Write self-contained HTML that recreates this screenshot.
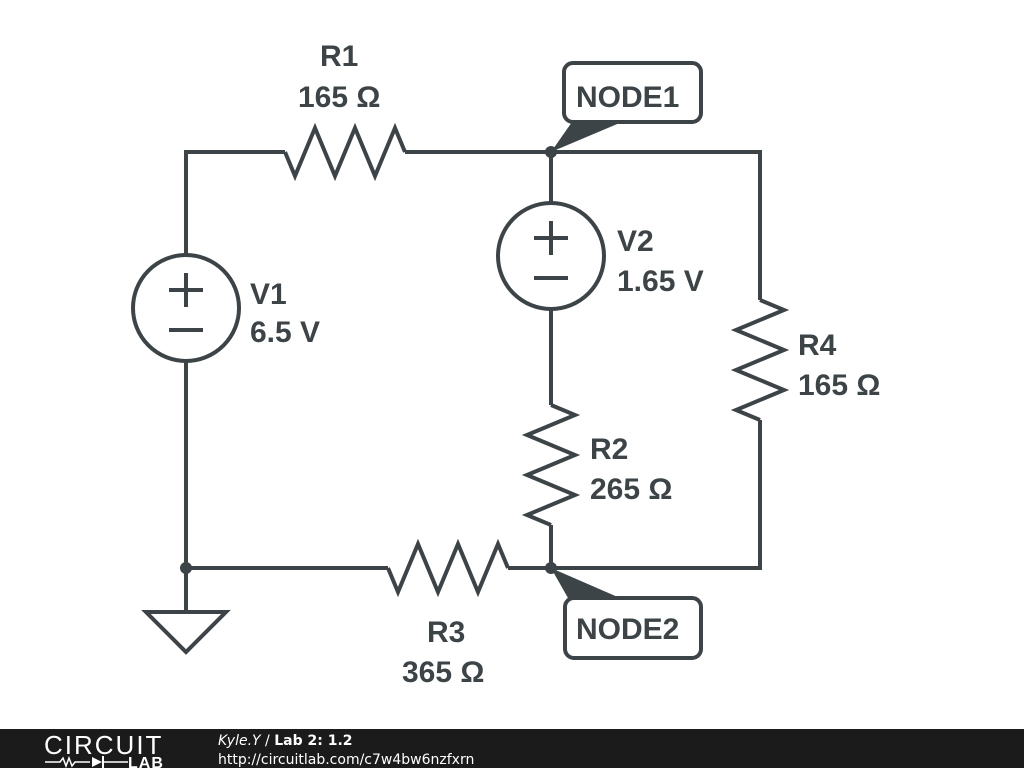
<!DOCTYPE html>
<html><head><meta charset="utf-8"><style>
body{margin:0;width:1024px;height:768px;background:#fff;overflow:hidden;font-family:"Liberation Sans",sans-serif}
</style></head><body>
<svg width="1024" height="768" viewBox="0 0 1024 768" xmlns="http://www.w3.org/2000/svg">
<g stroke="#3d4448" stroke-width="4" fill="none" stroke-linejoin="miter">
<polyline points="186,255 186,152 285,152"/>
<polyline points="405,152 760,152 760,300"/>
<line x1="186" y1="361" x2="186" y2="612"/>
<line x1="186" y1="568" x2="388" y2="568"/>
<polyline points="508,568 760,568 760,420"/>
<line x1="551" y1="152" x2="551" y2="203"/>
<line x1="551" y1="309" x2="551" y2="405"/>
<line x1="551" y1="525" x2="551" y2="568"/>
<polyline points="285,152 295,176 315,128 335,176 355,128 375,176 395,128 405,152"/>
<polyline points="388,568 398,592 418,544 438,592 458,544 478,592 498,544 508,568"/>
<polyline points="760,300 784,310 736,330 784,350 736,370 784,390 736,410 760,420"/>
<polyline points="551,405 575,415 527,435 575,455 527,475 575,495 527,515 551,525"/>
<circle cx="186" cy="308" r="53"/>
<line x1="169" y1="290" x2="203" y2="290"/><line x1="186" y1="273" x2="186" y2="307"/>
<line x1="169" y1="330" x2="203" y2="330"/>
<circle cx="551" cy="256" r="53"/>
<line x1="534" y1="238" x2="568" y2="238"/><line x1="551" y1="221" x2="551" y2="255"/>
<line x1="534" y1="278" x2="568" y2="278"/>
<polygon points="146,612 226,612 186,652"/>
<rect x="564" y="63" width="137" height="59" rx="9"/>
<rect x="565" y="598" width="136" height="60" rx="9"/>
</g>
<g fill="#3d4448">
<circle cx="551" cy="152" r="6"/>
<circle cx="551" cy="568" r="6"/>
<circle cx="186" cy="568" r="6"/>
<polygon points="551,152 572,122 622,122"/>
<polygon points="551,568 568,598 620,598"/>
</g>
<g fill="#3d4448" font-weight="bold" font-size="30" font-family="Liberation Sans,sans-serif">
<text x="320" y="66">R1</text><text x="298" y="107">165 Ω</text>
<text x="250" y="304">V1</text><text x="250" y="342">6.5 V</text>
<text x="617" y="251">V2</text><text x="617" y="291">1.65 V</text>
<text x="798" y="355">R4</text><text x="798" y="395">165 Ω</text>
<text x="590" y="459">R2</text><text x="590" y="499">265 Ω</text>
<text x="427" y="642">R3</text><text x="402" y="682">365 Ω</text>
<text x="576" y="107">NODE1</text>
<text x="576" y="639">NODE2</text>
</g>
<rect x="0" y="729" width="1024" height="39" fill="#1b1b1b"/>
<text x="44" y="754" fill="#fff" font-size="26" font-family="Liberation Sans,sans-serif" letter-spacing="2">CIRCUIT</text>
<polyline points="45,762 60,762 63,758 66,766 69,758 72,766 75,762 90,762" stroke="#fff" stroke-width="1.5" fill="none"/>
<polygon points="92,757 92,767 102,762" fill="#fff"/><line x1="103" y1="756" x2="103" y2="768" stroke="#fff" stroke-width="2"/>
<line x1="103" y1="762" x2="128" y2="762" stroke="#fff" stroke-width="1.5"/>
<text x="128" y="768" fill="#fff" font-size="16" font-weight="bold" font-family="Liberation Sans,sans-serif" letter-spacing="1">LAB</text>
<text x="218" y="745" fill="#fff" font-size="14" font-family="DejaVu Sans,sans-serif"><tspan font-style="italic">Kyle.Y</tspan> / <tspan font-weight="bold">Lab 2: 1.2</tspan></text>
<text x="218" y="764" fill="#fff" font-size="14" font-family="DejaVu Sans,sans-serif">http://circuitlab.com/c7w4bw6nzfxrn</text>
</svg>
</body></html>
